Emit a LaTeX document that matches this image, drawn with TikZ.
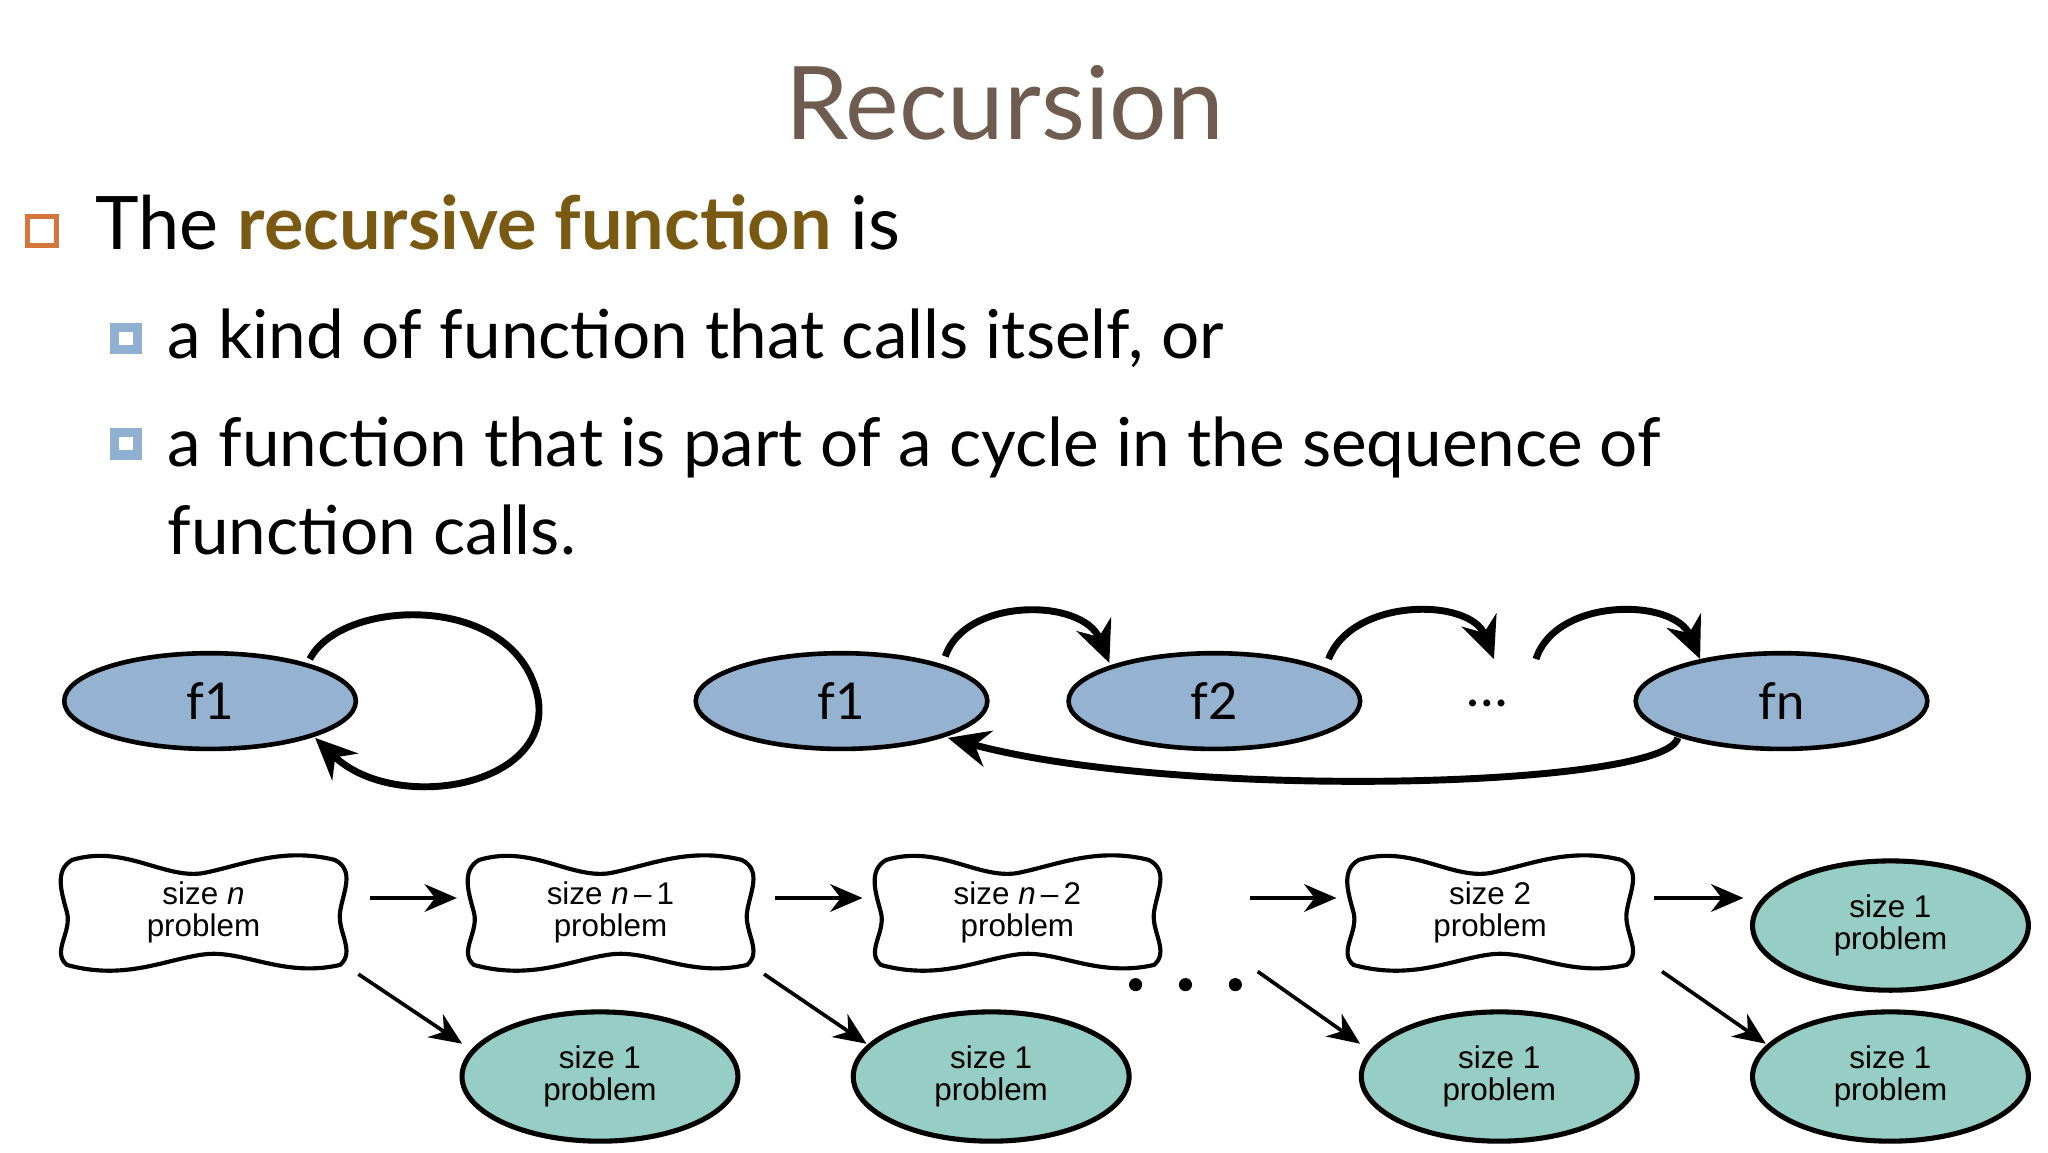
\documentclass[tikz,border=0pt]{standalone}
\usepackage{fontspec}
\setmainfont{Lato}
\newfontfamily\helv{Liberation Sans}
\usetikzlibrary{arrows.meta,shapes.geometric}
\definecolor{titlec}{HTML}{6E5C50}
\definecolor{goldc}{HTML}{7A5A12}
\definecolor{orangec}{HTML}{D4763B}
\definecolor{bluesq}{HTML}{8FB0D0}
\definecolor{fblue}{HTML}{95B3D0}
\definecolor{teal1}{HTML}{96CDC5}
\tikzset{
 fnode/.style={ellipse,draw,line width=1pt,fill=fblue,minimum width=2.22cm,minimum height=0.72cm,font=\fontsize{11}{11}\selectfont},
 tealnode/.style={ellipse,draw,line width=1.1pt,fill=teal1,minimum width=2.1cm,minimum height=0.84cm,font=\helv\fontsize{6.8}{6.8}\selectfont,align=center},
 boxnode/.style={minimum width=2.25cm,minimum height=0.9cm,font=\helv\fontsize{6.8}{6.8}\selectfont,align=center},
 arr/.style={-{Stealth[length=7pt,width=6pt]},line width=0.8pt},
 big/.style={-{Stealth[length=9pt,width=8pt]},line width=1.5pt},
 wavy/.style={line width=0.9pt}
}
\newcommand\wavyat[1]{\draw[wavy,shift={(#1)}] (-100,-40) .. controls (-60,-52) and (-30,-25) .. (0,-30) .. controls (30,-36) and (60,-50) .. (100,-40) .. controls (116,-32) and (106,-15) .. (104,0) .. controls (102,15) and (116,30) .. (104,40) .. controls (60,50) and (30,28) .. (0,32) .. controls (-30,36) and (-60,52) .. (-104,40) .. controls (-116,30) and (-100,15) .. (-104,0) .. controls (-108,-15) and (-114,-32) .. (-100,-40) -- cycle;}
\newcommand\mn{\,\textendash\,}
\begin{document}
\begin{tikzpicture}[x=0.01cm,y=-0.01cm]
\useasboundingbox (0,0) rectangle (1560,877.5);
\node[text=titlec,font=\fontsize{22}{22}\selectfont] (title) at (765,78) {Recursion};
\node[draw=orangec,line width=1pt,minimum size=0.22cm,inner sep=0pt] (b0) at (32,176) {};
\node[anchor=base west,font=\fontsize{16}{16}\selectfont,inner sep=0pt] (t0) at (72,190) {The \textcolor{goldc}{\bfseries recursive function} is};
\node[fill=bluesq,minimum size=0.24cm,inner sep=0pt] (b1) at (96,258) {};
\node[fill=white,minimum size=0.1cm,inner sep=0pt] (b1i) at (96,258) {};
\node[anchor=base west,font=\fontsize{14.6}{14.6}\selectfont,inner sep=0pt] (t1) at (127,273) {a kind of function that calls itself, or};
\node[fill=bluesq,minimum size=0.24cm,inner sep=0pt] (b2) at (96,338) {};
\node[fill=white,minimum size=0.1cm,inner sep=0pt] (b2i) at (96,338) {};
\node[anchor=base west,font=\fontsize{14.6}{14.6}\selectfont,inner sep=0pt] (t2) at (127,355) {a function that is part of a cycle in the sequence of};
\node[anchor=base west,font=\fontsize{14.6}{14.6}\selectfont,inner sep=0pt] (t3) at (127,422) {function calls.};
% self loop
\node[fnode] (s1) at (160,534) {f1};
\draw[big] (236,502) .. controls (260,455) and (395,450) .. (410,533) .. controls (420,600) and (300,620) .. (240,562);
% chain
\node[fnode] (g1) at (641,534) {f1};
\node[fnode] (g2) at (925,534) {f2};
\node[font=\fontsize{12}{12}\selectfont] (gd) at (1133,536) {\dots};
\node[fnode] (gn) at (1357,534) {fn};
\draw[big] (720,500) .. controls (735,455) and (825,455) .. (845,505);
\draw[big] (1012,502) .. controls (1030,455) and (1120,455) .. (1138,502);
\draw[big] (1170,502) .. controls (1185,455) and (1275,455) .. (1295,502);
\draw[big] (1278,562) .. controls (1270,600) and (900,610) .. (722,562);
% bottom row
\foreach \n/\x/\t in {w1/155/{size \textit{n}\\problem},w2/465/{size \textit{n}\mn1\\problem},w3/775/{size \textit{n}\mn2\\problem},w4/1135/{size 2\\problem}}{
  \wavyat{\x,695}
  \node[boxnode] (\n) at (\x,695) {\t};
}
\node[tealnode] (e0) at (1440,705) {size 1\\problem};
\node[tealnode] (e1) at (457,820) {size 1\\problem};
\node[tealnode] (e2) at (755,820) {size 1\\problem};
\node[tealnode] (e3) at (1142,820) {size 1\\problem};
\node[tealnode] (e4) at (1440,820) {size 1\\problem};
\draw[arr] (282,684) -- (348,684);
\draw[arr] (590,684) -- (657,684);
\draw[arr] (952,684) -- (1018,684);
\draw[arr] (1260,684) -- (1328,684);
\draw[arr] (273,742) -- (352,795);
\draw[arr] (582,742) -- (660,795);
\draw[arr] (958,740) -- (1036,795);
\draw[arr] (1266,740) -- (1345,795);
\foreach \x in {865,903,941} \fill (\x,750) circle (5);
\end{tikzpicture}
\end{document}
